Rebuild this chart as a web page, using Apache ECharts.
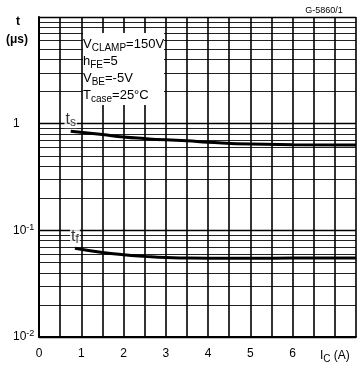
<!DOCTYPE html>
<html>
<head>
<meta charset="utf-8">
<script src="https://cdn.jsdelivr.net/npm/echarts@6/dist/echarts.min.js"></script>
<style>
html,body{margin:0;padding:0;background:#fff;}
#c{width:361px;height:368px;}
</style>
</head>
<body>
<div id="c"></div>
<script>
// Collector current I_C (A) and switching times (µs)
var tsData = [[0.75,0.85],[1.5,0.79],[2,0.75],[2.5,0.725],[3,0.705],[3.5,0.69],[4,0.67],[5,0.643],[6,0.635],[7.5,0.631]];
var tfData = [[0.85,0.068],[1.5,0.062],[2,0.059],[2.5,0.057],[3,0.0555],[3.5,0.055],[4,0.0548],[5,0.0548],[6,0.0549],[7.5,0.0549]];
var xTickLabels = ['0','1','2','3','4','5','6'];
var yTickLabels = {'1':'1','0.1':'10{sup|-1}','0.01':'10{sup|-2}'};
var condLines = ['V{sub|CLAMP}=150V','h{sub|FE}=5','V{sub|BE}=-5V','T{sub|case}=25°C'];
var curveNames = ['{b|t}{sub|s}','{b|t}{sub|f}'];

var FONT = 'Liberation Sans';
var chart = echarts.init(document.getElementById('c'));

function tagSeries(point, text){
  return {type:'scatter', symbol:'rect', symbolSize:10, itemStyle:{color:'transparent'}, z:12, silent:true,
    data:[point],
    label:{show:true, position:'top', distance:-2, formatter:text,
      color:'#000', fontFamily:FONT, fontSize:16, backgroundColor:'#fff', padding:[0,1,0,1],
      rich:{
        b:{fontSize:16, fontFamily:FONT, color:'#000'},
        sub:{fontSize:12, verticalAlign:'bottom', padding:[6,0,0,0], fontFamily:FONT, color:'#000'}
      }}};
}

chart.setOption({
  animation:false,
  backgroundColor:'#fff',
  grid:{left:39, right:5, top:17, bottom:31},
  xAxis:{
    type:'value', min:0, max:7.5, interval:0.5,
    axisLine:{show:true, onZero:false, lineStyle:{color:'#000', width:2}},
    axisTick:{show:false},
    splitLine:{show:true, lineStyle:{color:'#000', width:1.6}},
    axisLabel:{
      margin:11, color:'#000', fontFamily:FONT, fontSize:12, showMaxLabel:true, showMinLabel:true,
      formatter:function(v){
        if(Math.abs(v-7)<1e-6) return 'I{sub|C} (A)';
        if(Math.abs(v-Math.round(v))<1e-6 && xTickLabels[Math.round(v)]!==undefined) return xTickLabels[Math.round(v)];
        return '';
      },
      rich:{sub:{fontSize:10, verticalAlign:'bottom', padding:[6,0,0,0], fontFamily:FONT}}
    }
  },
  yAxis:{
    type:'log', logBase:10, min:0.01, max:10,
    axisLine:{show:true, lineStyle:{color:'#000', width:2}},
    axisTick:{show:false},
    minorTick:{show:false, splitNumber:9},
    splitLine:{show:true, lineStyle:{color:'#000', width:1.4}},
    minorSplitLine:{show:true, lineStyle:{color:'#222', width:1.1}},
    axisLabel:{
      margin:26, align:'left', color:'#000', fontFamily:FONT, fontSize:12,
      formatter:function(v){
        var k = String(+v.toPrecision(3));
        return yTickLabels[k]!==undefined ? yTickLabels[k] : '';
      },
      rich:{sup:{fontSize:9, verticalAlign:'top', padding:[0,0,6,0], fontFamily:FONT}}
    }
  },
  graphic:[
    {type:'rect', z:50, shape:{x:83, y:33, width:81, height:72}, style:{fill:'#fff'}},
    {type:'text', z:51, style:{
      x:83, y:36, text:condLines.join('\n'), fill:'#000', font:'13px '+FONT, lineHeight:17,
      rich:{sub:{fontSize:10, fontFamily:FONT, verticalAlign:'bottom', padding:[7,0,0,0], lineHeight:17}}
    }},
    {type:'text', z:51, style:{x:18, y:22, text:'t', fill:'#000', font:'bold 12px '+FONT, align:'center', verticalAlign:'middle'}},
    {type:'text', z:51, style:{x:17, y:40, text:'(μs)', fill:'#000', font:'bold 12px '+FONT, align:'center', verticalAlign:'middle'}},
    {type:'text', z:51, style:{x:324, y:11, text:'G-5860/1', fill:'#000', font:'9px '+FONT, align:'center', verticalAlign:'middle'}}
  ],
  series:[
    {type:'line', smooth:true, symbol:'none', data:tsData, lineStyle:{color:'#000', width:3}, z:10},
    {type:'line', smooth:true, symbol:'none', data:tfData, lineStyle:{color:'#000', width:3}, z:10},
    tagSeries(tsData[0], curveNames[0]),
    tagSeries(tfData[0], curveNames[1])
  ]
});
</script>
</body>
</html>
